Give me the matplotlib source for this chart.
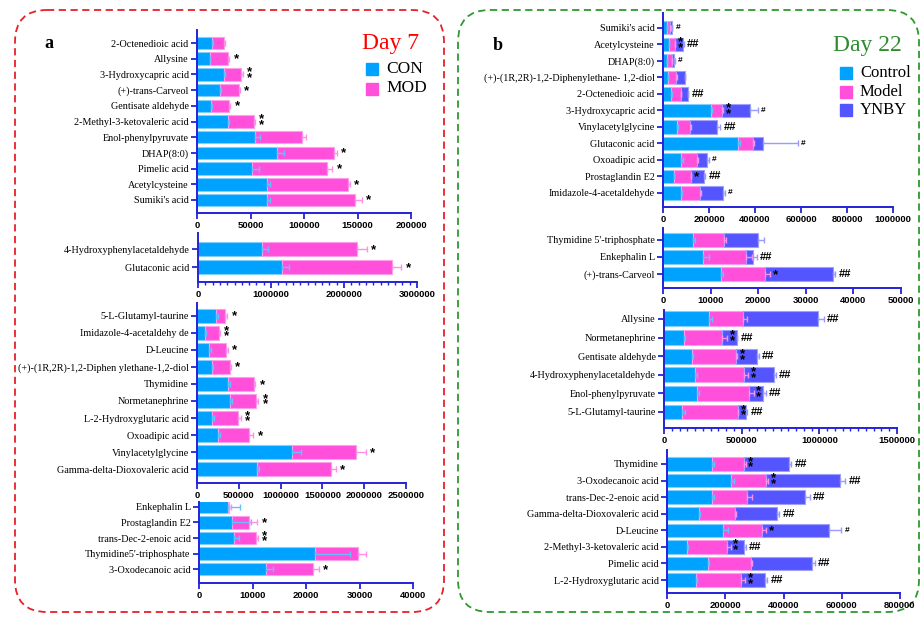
import matplotlib
matplotlib.use("Agg")
import matplotlib.pyplot as plt
from matplotlib.patches import FancyBboxPatch, Rectangle
from matplotlib.ticker import MultipleLocator

W, H = 923, 617

# ---------------- Day 7 (panel a): CON vs MOD, stacked ----------------
a1_labels = ['2-Octenedioic acid', 'Allysine', '3-Hydroxycapric acid', '(+)-trans-Carveol',
             'Gentisate aldehyde', '2-Methyl-3-ketovaleric acid', 'Enol-phenylpyruvate',
             'DHAP(8:0)', 'Pimelic acid', 'Acetylcysteine', "Sumiki's acid"]
a1_con = [14000, 11800, 24900, 21500, 13100, 29000, 54500, 74800, 51400, 65400, 65400]
a1_mod = [11500, 17200, 16200, 17400, 17100, 24000, 43600, 52900, 70100, 75400, 81900]
a1_con_err = [1000, 800, 1500, 1200, 1000, 800, 4000, 6500, 6500, 2500, 2500]
a1_mod_err = [1000, 1200, 1500, 1200, 1000, 800, 4000, 3000, 5000, 2000, 7000]
a1_sig = ['', '*', '**', '*', '*', '**', '', '*', '*', '*', '*']

a2_labels = ['4-Hydroxyphenylacetaldehyde', 'Glutaconic acid']
a2_con = [876700, 1155200]
a2_mod = [1305800, 1506800]
a2_con_err = [82000, 91000]
a2_mod_err = [130000, 123000]
a2_sig = ['*', '*']

a3_labels = ['5-L-Glutamyl-taurine', 'Imidazole-4-acetaldehy de', 'D-Leucine',
             '(+)-(1R,2R)-1,2-Diphen ylethane-1,2-diol', 'Thymidine', 'Normetanephrine',
             'L-2-Hydroxyglutaric acid', 'Oxoadipic acid', 'Vinylacetylglycine',
             'Gamma-delta-Dioxovaleric acid']
a3_con = [227000, 96000, 147000, 175000, 375000, 395000, 179000, 255000, 1132000, 718000]
a3_mod = [112000, 167000, 200000, 220000, 307000, 311000, 315000, 371000, 766000, 885000]
a3_con_err = [20000, 15000, 15000, 15000, 20000, 20000, 25000, 20000, 112000, 20000]
a3_mod_err = [24000, 12000, 20000, 8000, 16000, 28000, 28000, 48000, 119000, 56000]
a3_sig = ['*', '**', '*', '*', '*', '**', '**', '*', '*', '*']

a4_labels = ['Enkephalin L', 'Prostaglandin E2', 'trans-Dec-2-enoic acid',
             "Thymidine5'-triphosphate", '3-Oxodecanoic acid']
a4_con = [5350, 6220, 6590, 21650, 12440]
a4_mod = [310, 3110, 3980, 8080, 8890]
a4_con_err = [2400, 3500, 800, 6500, 1300]
a4_mod_err = [300, 1560, 500, 1560, 1120]
a4_sig = ['', '*', '**', '', '*']

# ---------------- Day 22 (panel b): Control / Model / YNBY ----------------
b1_labels = ["Sumiki's acid", 'Acetylcysteine', 'DHAP(8:0)',
             '(+)-(1R,2R)-1,2-Diphenylethane- 1,2-diol', '2-Octenedioic acid',
             '3-Hydroxycapric acid', 'Vinylacetylglycine', 'Glutaconic acid',
             'Oxoadipic acid', 'Prostaglandin E2', 'Imidazole-4-acetaldehyde']
b1_ctrl = [17400, 24600, 17400, 21700, 36200, 208600, 60900, 326000, 79700, 46400, 79700]
b1_model = [14500, 26100, 21700, 36300, 42000, 47900, 55000, 65200, 68100, 73900, 82600]
b1_ynby = [7200, 36300, 10200, 36200, 29000, 123100, 118800, 42000, 43500, 59400, 97100]
b1_ctrl_err = [1500, 2000, 1500, 2000, 2000, 6000, 4000, 8000, 6000, 2000, 4000]
b1_model_err = [1500, 2000, 1500, 3000, 2000, 6000, 6000, 6000, 3000, 3000, 3000]
b1_ynby_err = [2000, 3000, 2000, 3000, 3000, 32000, 14000, 152000, 7000, 3000, 9000]
b1_sig_model = ['', '**', '', '', '', '**', '', '', '', '*', '']
b1_sig_ctrl = ['#', '##', '#', '', '##', '#', '##', '#', '#', '##', '#']

b2_labels = ["Thymidine 5'-triphosphate", 'Enkephalin L', '(+)-trans-Carveol']
b2_ctrl = [6220, 8390, 12160]
b2_model = [6640, 9090, 9300]
b2_ynby = [7060, 1530, 14330]
b2_ctrl_err = [600, 1200, 500]
b2_model_err = [300, 1300, 1100]
b2_ynby_err = [1200, 700, 350]
b2_sig_model = ['', '', '*']
b2_sig_ctrl = ['', '##', '##']

b3_labels = ['Allysine', 'Normetanephrine', 'Gentisate aldehyde',
             '4-Hydroxyphenylacetaldehyde', 'Enol-phenylpyruvate', '5-L-Glutamyl-taurine']
b3_ctrl = [288400, 129000, 180800, 198000, 213000, 118400]
b3_model = [221600, 247600, 281900, 316300, 333600, 355000]
b3_ynby = [480000, 90400, 137700, 193700, 92500, 51600]
b3_ctrl_err = [20000, 8000, 5000, 12000, 10000, 20000]
b3_model_err = [25000, 30000, 5000, 25000, 30000, 5000]
b3_ynby_err = [37000, 6000, 10000, 10000, 15000, 10000]
b3_sig_model = ['', '**', '**', '**', '**', '**']
b3_sig_ctrl = ['##', '##', '##', '##', '##', '##']

b4_labels = ['Thymidine', '3-Oxodecanoic acid', 'trans-Dec-2-enoic acid',
             'Gamma-delta-Dioxovaleric acid', 'D-Leucine', '2-Methyl-3-ketovaleric acid',
             'Pimelic acid', 'L-2-Hydroxyglutaric acid']
b4_ctrl = [154700, 218900, 154700, 108900, 192500, 68800, 141000, 98600]
b4_model = [110000, 120300, 120300, 126000, 135300, 137500, 146600, 157000]
b4_ynby = [153600, 254400, 198300, 144400, 229200, 57300, 210900, 82500]
b4_ctrl_err = [8000, 12000, 6000, 3000, 18000, 3000, 3000, 3000]
b4_model_err = [5000, 8000, 18000, 3000, 12000, 12000, 3000, 12000]
b4_ynby_err = [9000, 19000, 17000, 6000, 42000, 6000, 9000, 6000]
b4_sig_model = ['**', '**', '', '', '*', '**', '', '**']
b4_sig_ctrl = ['##', '##', '##', '##', '#', '##', '##', '##']

# ---------------- styling ----------------
C_BLUE = '#00A2FF'
C_PINK = '#FF4FDB'
C_PURP = '#5555FF'
E_BLUE = '#66BFFF'
E_PINK = '#FF8FE8'
E_PURP = '#9A9AFF'
EDGE = {C_BLUE: '#7FCFFF', C_PINK: '#FF9FEB', C_PURP: '#A0A0FF'}
SPINE = '#2323D8'
SERIF = ['Liberation Serif', 'DejaVu Serif']
SANS = ['Liberation Sans', 'DejaVu Sans']

fig = plt.figure(figsize=(W / 100, H / 100), dpi=100)

bg = fig.add_axes([0, 0, 1, 1], zorder=-5)
bg.set_xlim(0, W)
bg.set_ylim(H, 0)
bg.axis('off')
bg.add_patch(FancyBboxPatch((15, 10), 429, 602, boxstyle="round,pad=0,rounding_size=32",
                            ls=(0, (4, 2.5)), ec='#E8202A', fc='none', lw=1.3))
bg.add_patch(FancyBboxPatch((458, 10), 461, 602, boxstyle="round,pad=0,rounding_size=32",
                            ls=(0, (4, 2.5)), ec='#2E9A2E', fc='none', lw=1.3))


def add_ax(l, t, r, b):
    return fig.add_axes([l / W, 1 - b / H, (r - l) / W, (b - t) / H])


def star_text(sig):
    return '\n'.join(list(sig)) if sig.startswith('*') else sig


def draw_panel(ax, labels, series, errs, colors, ecolors, xmax, major, top_m, bot_m,
               minor=None, bar_h=0.8, sig_end=None, sig_mid=None):
    n = len(labels)
    ys = list(range(n))
    left = [0.0] * n
    ends = []
    for vals, col in zip(series, colors):
        ax.barh(ys, vals, left=left, height=bar_h, color=col,
                edgecolor=EDGE[col], linewidth=0.8, zorder=2)
        left = [l + v for l, v in zip(left, vals)]
        ends.append(list(left))
    for k, (err, ec) in enumerate(zip(errs, ecolors)):
        ax.errorbar(ends[k], ys, xerr=[[0] * n, err], fmt='none', ecolor=ec,
                    elinewidth=1.0, capsize=2.5, capthick=1.0, zorder=3)
    # significance marks after the last segment
    if sig_end is not None:
        for i in range(n):
            s = sig_end[i]
            if not s:
                continue
            x = ends[-1][i] + errs[-1][i]
            if s.startswith('*'):
                ax.annotate(star_text(s), (x, i), xytext=(3, -0.5), textcoords='offset points',
                            ha='left', va='center', fontsize=9.5, fontweight='bold',
                            linespacing=0.32, family=SANS, color='black', zorder=4,
                            annotation_clip=False)
            else:
                fs = 8 if len(s) == 2 else 6
                ax.annotate(s, (x, i), xytext=(2.5, 0), textcoords='offset points',
                            ha='left', va='center', fontsize=fs, fontweight='bold',
                            family=SANS, color='black', zorder=4, annotation_clip=False)
    # significance marks inside the last segment (vs. model)
    if sig_mid is not None:
        for i in range(n):
            s = sig_mid[i]
            if not s:
                continue
            x = ends[-2][i] + errs[-2][i]
            ax.annotate(star_text(s), (x, i), xytext=(2, -0.5), textcoords='offset points',
                        ha='left', va='center', fontsize=9.5, fontweight='bold',
                        linespacing=0.32, family=SANS, color='black', zorder=4)
    ax.set_xlim(0, xmax)
    ax.set_ylim(n - 1 + bot_m, -top_m)
    ax.set_yticks(ys)
    ax.set_yticklabels(labels, family=SERIF, fontsize=7.3)
    ax.xaxis.set_major_locator(MultipleLocator(major))
    if minor:
        ax.xaxis.set_minor_locator(MultipleLocator(minor))
    for sp in ('top', 'right'):
        ax.spines[sp].set_visible(False)
    for sp in ('left', 'bottom'):
        ax.spines[sp].set_color(SPINE)
        ax.spines[sp].set_linewidth(1.4)
    ax.tick_params(axis='both', which='major', direction='out', color=SPINE,
                   width=1.3, length=4, pad=2)
    ax.tick_params(axis='x', which='minor', direction='out', color=SPINE,
                   width=1.0, length=2.5)
    ax.set_facecolor('none')
    ax.set_xticks(ax.get_xticks())
    ax.set_xticklabels([str(int(v)) for v in ax.get_xticks()], family=SANS,
                       fontweight='bold', fontsize=6.8)
    ax.set_xlim(0, xmax)


# ---- panel a ----
two = [C_BLUE, C_PINK]
two_e = [E_BLUE, E_PINK]

ax = add_ax(197, 30, 411, 213)
draw_panel(ax, a1_labels, [a1_con, a1_mod], [a1_con_err, a1_mod_err], two, two_e,
           200000, 50000, 0.83, 0.83, sig_end=a1_sig)

ax = add_ax(198, 233, 417, 282)
draw_panel(ax, a2_labels, [a2_con, a2_mod], [a2_con_err, a2_mod_err], two, two_e,
           3000000, 1000000, 0.89, 0.83, minor=100000, sig_end=a2_sig)

ax = add_ax(197, 303, 406, 483)
draw_panel(ax, a3_labels, [a3_con, a3_mod], [a3_con_err, a3_mod_err], two, two_e,
           2500000, 500000, 0.76, 0.82, sig_end=a3_sig)

ax = add_ax(199, 502, 413, 583)
draw_panel(ax, a4_labels, [a4_con, a4_mod], [a4_con_err, a4_mod_err], two, two_e,
           40000, 10000, 0.32, 0.9, sig_end=a4_sig)

# ---- panel b ----
three = [C_BLUE, C_PINK, C_PURP]
three_e = [E_BLUE, E_PINK, E_PURP]

ax = add_ax(663, 13, 893, 207)
draw_panel(ax, b1_labels, [b1_ctrl, b1_model, b1_ynby],
           [b1_ctrl_err, b1_model_err, b1_ynby_err], three, three_e,
           1000000, 200000, 0.9, 0.85, sig_end=b1_sig_ctrl, sig_mid=b1_sig_model)

ax = add_ax(663, 228, 901, 288)
draw_panel(ax, b2_labels, [b2_ctrl, b2_model, b2_ynby],
           [b2_ctrl_err, b2_model_err, b2_ynby_err], three, three_e,
           50000, 10000, 0.7, 0.82, sig_end=b2_sig_ctrl, sig_mid=b2_sig_model)

ax = add_ax(664, 310, 897, 428)
draw_panel(ax, b3_labels, [b3_ctrl, b3_model, b3_ynby],
           [b3_ctrl_err, b3_model_err, b3_ynby_err], three, three_e,
           1500000, 500000, 0.48, 0.86, minor=50000, sig_end=b3_sig_ctrl,
           sig_mid=b3_sig_model)

ax = add_ax(667, 450, 900, 593)
draw_panel(ax, b4_labels, [b4_ctrl, b4_model, b4_ynby],
           [b4_ctrl_err, b4_model_err, b4_ynby_err], three, three_e,
           800000, 200000, 0.84, 0.78, sig_end=b4_sig_ctrl, sig_mid=b4_sig_model)

# ---- panel letters, titles and legends ----
bg.text(49, 43, 'a', family=SERIF, fontsize=13, fontweight='bold', ha='center', va='center')
bg.text(498, 45, 'b', family=SERIF, fontsize=13, fontweight='bold', ha='center', va='center')
bg.text(390, 44, 'Day 7', family=SERIF, fontsize=17, color='#FF0000', ha='center', va='center')
bg.text(867, 45, 'Day 22', family=SERIF, fontsize=17, color='#2E8B2E', ha='center', va='center')

legend_a = [('CON', C_BLUE), ('MOD', C_PINK)]
for k, (name, col) in enumerate(legend_a):
    y = 69 + k * 19.5
    bg.add_patch(Rectangle((366, y - 6), 12, 12, color=col))
    bg.text(386, y, name, family=SERIF, fontsize=12.5, ha='left', va='center')

legend_b = [('Control', C_BLUE), ('Model', C_PINK), ('YNBY', C_PURP)]
for k, (name, col) in enumerate(legend_b):
    y = 73 + k * 18.5
    bg.add_patch(Rectangle((840, y - 6), 12, 12, color=col))
    bg.text(860, y, name, family=SERIF, fontsize=12, ha='left', va='center')

fig.savefig('out.png', dpi=100)
